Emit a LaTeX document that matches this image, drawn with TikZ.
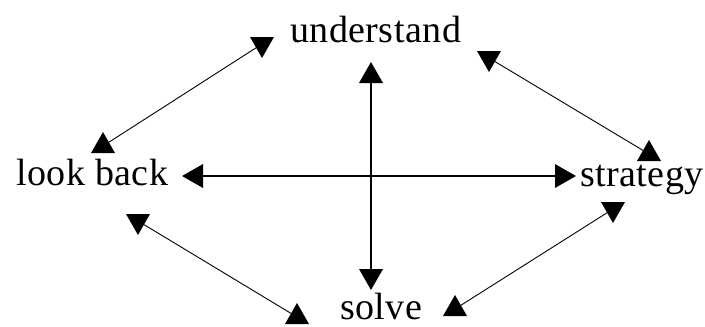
\documentclass[tikz,border=0pt]{standalone}
\usepackage{fontspec}
\setmainfont{Liberation Serif}[LetterSpace=1.2]
\begin{document}
\begin{tikzpicture}[x=1pt,y=-1pt,
  lbl/.style={anchor=base west,inner sep=0pt,font=\fontsize{38}{40}\selectfont},
  thinline/.style={line width=0.9pt},
  axisline/.style={line width=1.6pt},
  triup/.pic={\fill (0,-14) -- (12,7) -- (-12,7) -- cycle;},
  tridn/.pic={\fill (0,14) -- (12,-7) -- (-12,-7) -- cycle;},
  trilf/.pic={\fill (-14,0) -- (7,-12) -- (7,12) -- cycle;},
  trirt/.pic={\fill (14,0) -- (-7,-12) -- (-7,12) -- cycle;}]
\useasboundingbox (0,0) rectangle (705,327);
% labels
\node[lbl] (understand) at (290,42) {understand};
\node[lbl] (lookback) at (16,185) {look back};
\node[lbl] (strategy) at (580,186) {strategy};
\node[lbl] (solve) at (340,319) {solve};
% arrow head centres
\coordinate (vt) at (371,76);
\coordinate (vb) at (371,276);
\coordinate (hl) at (196,176);
\coordinate (hr) at (562,176);
\coordinate (tlA) at (262,44);
\coordinate (tlB) at (103,146);
\coordinate (trA) at (489,58);
\coordinate (trB) at (649,154);
\coordinate (blA) at (138,221);
\coordinate (blB) at (297,317);
\coordinate (brA) at (613,209);
\coordinate (brB) at (455,309);
% connectors
\draw[axisline] (vt) -- (vb);
\draw[axisline] (hl) -- (hr);
\draw[thinline] (tlA) -- (tlB);
\draw[thinline] (trA) -- (trB);
\draw[thinline] (blA) -- (blB);
\draw[thinline] (brA) -- (brB);
% heads
\pic at (vt) {triup};
\pic at (vb) {tridn};
\pic at (hl) {trilf};
\pic at (hr) {trirt};
\pic at (tlA) {tridn};
\pic at (tlB) {triup};
\pic at (trA) {tridn};
\pic at (trB) {triup};
\pic at (blA) {tridn};
\pic at (blB) {triup};
\pic at (brA) {tridn};
\pic at (brB) {triup};
\end{tikzpicture}
\end{document}
